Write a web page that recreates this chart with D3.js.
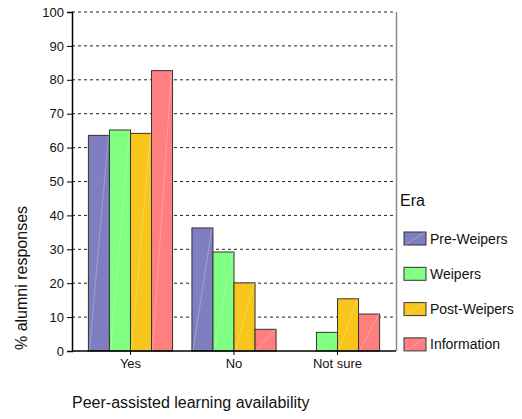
<!DOCTYPE html>
<html><head><meta charset="utf-8">
<script src="https://cdn.jsdelivr.net/npm/d3@7"></script>
<style>body{margin:0;background:#fff}svg{display:block}text{font-family:"Liberation Sans",Arial,sans-serif;fill:#111}</style>
</head><body><svg id="c" width="522" height="419"></svg>
<script>
const categories = ["Yes", "No", "Not sure"];
const seriesNames = ["Pre-Weipers", "Weipers", "Post-Weipers", "Information"];
const preWeipers = [63.6, 36.3, 0];
const weipers = [65.2, 29.2, 5.5];
const postWeipers = [64.2, 20.1, 15.4];
const information = [82.7, 6.4, 10.9];
const yTicks = [0, 10, 20, 30, 40, 50, 60, 70, 80, 90, 100];
const colors = ["#7f7fbf", "#80ff80", "#f8c51c", "#ff7f7f"];
const series = [preWeipers, weipers, postWeipers, information];

const svg = d3.select("#c");
const L = 72, R = 396, T = 12, B = 351;
const x = d3.scaleBand().domain(categories).range([L, R]).paddingInner(0).paddingOuter(0.065);
const xs = d3.scaleBand().domain(seriesNames).range([0, x.bandwidth()]).paddingInner(0).paddingOuter(0.46);
const y = d3.scaleLinear().domain([0, 100]).range([B, T]);

// grid
svg.append("g").selectAll("line").data(yTicks.filter(d => d > 0)).join("line")
  .attr("x1", L).attr("x2", R).attr("y1", d => y(d)).attr("y2", d => y(d))
  .attr("stroke", "#222").attr("stroke-dasharray", "3,3").attr("stroke-width", 1);

// right border
svg.append("line").attr("x1", R + 0.5).attr("x2", R + 0.5).attr("y1", T).attr("y2", B)
  .attr("stroke", "#888").attr("stroke-width", 1.5);

// bars
const data = [];
categories.forEach((c, i) => seriesNames.forEach((s, j) => data.push({c, s, v: series[j][i], col: colors[j]})));
const bars = svg.append("g").selectAll("g").data(data.filter(d => d.v > 0)).join("g");
bars.append("rect")
  .attr("x", d => x(d.c) + xs(d.s)).attr("y", d => y(d.v))
  .attr("width", xs.bandwidth()).attr("height", d => y(0) - y(d.v))
  .attr("fill", d => d.col).attr("stroke", "#333").attr("stroke-width", 1);
bars.append("line")
  .attr("x1", d => x(d.c) + xs(d.s) + 1).attr("y1", y(0))
  .attr("x2", d => x(d.c) + xs(d.s) + xs.bandwidth() - 1).attr("y2", d => y(d.v))
  .attr("stroke", "#fff").attr("stroke-opacity", 0.25).attr("stroke-width", 1);

// y axis
const ya = svg.append("g").attr("transform", `translate(${L},0)`)
  .call(d3.axisLeft(y).tickValues(yTicks).tickSize(5).tickPadding(3));
ya.select(".domain").attr("stroke", "#000").attr("stroke-width", 1.5);
ya.selectAll(".tick line").attr("stroke", "#000");
ya.selectAll("text").style("font-size", "13px").attr("fill", "#111");

// x axis
const xa = svg.append("g").attr("transform", `translate(0,${B})`)
  .call(d3.axisBottom(x).tickSize(4).tickSizeOuter(0).tickPadding(4));
xa.select(".domain").attr("stroke", "#000").attr("stroke-width", 1.5).attr("d", `M${L},0H${R}`);
xa.selectAll(".tick line").attr("stroke", "#000");
xa.selectAll("text").style("font-size", "13px").attr("fill", "#111");

// titles
svg.append("text").attr("transform", "translate(27,278) rotate(-90)").attr("text-anchor", "middle")
  .style("font-size", "16px").text("% alumni responses");
svg.append("text").attr("x", 72).attr("y", 408).style("font-size", "16px").text("Peer-assisted learning availability");

// legend
svg.append("text").attr("x", 400).attr("y", 206).style("font-size", "16px").text("Era");
const lg = svg.append("g").selectAll("g").data(seriesNames).join("g")
  .attr("transform", (d, i) => `translate(404,${232 + i * 35.3})`);
lg.append("rect").attr("width", 22).attr("height", 13).attr("fill", (d, i) => colors[i]).attr("stroke", "#333");
lg.append("line").attr("x1", 1).attr("y1", 13).attr("x2", 21).attr("y2", 0)
  .attr("stroke", "#fff").attr("stroke-opacity", 0.25);
lg.append("text").attr("x", 26).attr("y", 11.5).style("font-size", "14px").text(d => d);
</script></body></html>
